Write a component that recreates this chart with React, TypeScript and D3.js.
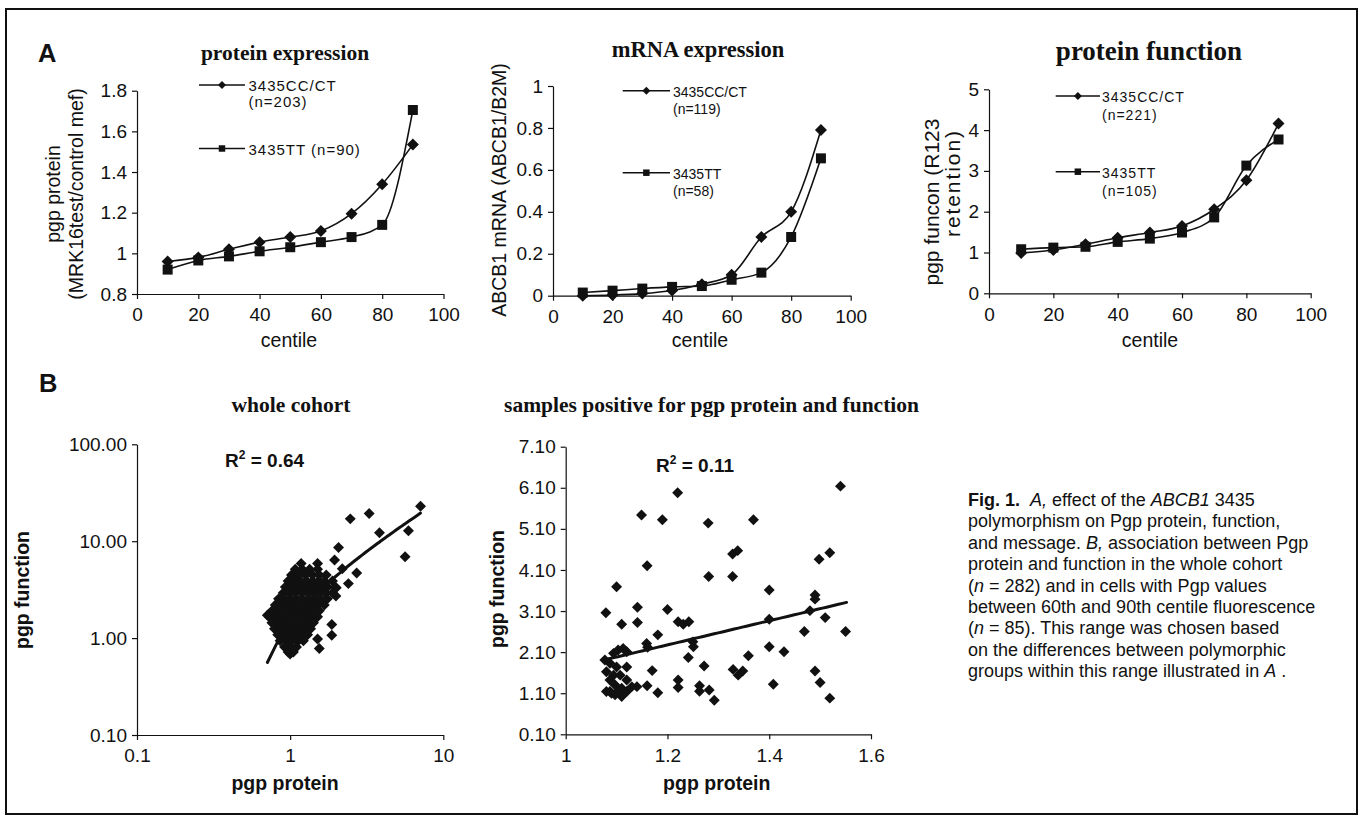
import React, { useEffect, useRef } from 'react';
import * as d3 from 'd3';

// ---- panel A: centile curves ----
const centiles = [10, 20, 30, 40, 50, 60, 70, 80, 90];
const centileTicks = [0, 20, 40, 60, 80, 100];

const proteinCC = [0.96, 0.98, 1.02, 1.055, 1.08, 1.11, 1.195, 1.34, 1.535];
const proteinTT = [0.92, 0.965, 0.985, 1.01, 1.03, 1.055, 1.08, 1.14, 1.705];
const proteinTicks = [0.8, 1, 1.2, 1.4, 1.6, 1.8];

const mrnaCC = [0, 0.003, 0.01, 0.025, 0.055, 0.1, 0.28, 0.4, 0.79];
const mrnaTT = [0.015, 0.024, 0.034, 0.042, 0.046, 0.076, 0.11, 0.28, 0.655];
const mrnaTicks = [0, 0.2, 0.4, 0.6, 0.8, 1];

const functionCC = [0.99, 1.06, 1.2, 1.36, 1.49, 1.65, 2.06, 2.77, 4.16];
const functionTT = [1.08, 1.12, 1.14, 1.26, 1.34, 1.49, 1.86, 3.13, 3.77];
const functionTicks = [0, 1, 2, 3, 4, 5];

// ---- panel B: scatter (pgp protein, pgp function) ----
const cohortPoints: [number, number][] = [
  [7.1, 22.9], [3.28, 19.3], [2.47, 17.0], [3.83, 12.2], [5.92, 12.8], [5.63, 6.9],
  [2.07, 8.6], [1.95, 6.4], [2.72, 4.7], [2.19, 5.2], [2.4, 3.65], [2.0, 3.3],
  [1.99, 2.72], [1.87, 1.38], [1.87, 1.07], [1.51, 0.98], [1.55, 0.78], [0.88, 2.52],
  [0.71, 1.72], [1.18, 5.9], [1.51, 5.9], [1.0, 0.685],
  [1.08, 5.15], [1.2, 5.15], [1.34, 5.15], [1.51, 5.15],
  [1.02, 4.47], [1.13, 4.47], [1.26, 4.47], [1.4, 4.47], [1.55, 4.47], [1.72, 4.47],
  [0.97, 3.88], [1.07, 3.88], [1.17, 3.88], [1.28, 3.88], [1.4, 3.88], [1.53, 3.88], [1.67, 3.88], [1.89, 3.88],
  [0.93, 3.37], [1.02, 3.37], [1.12, 3.37], [1.22, 3.37], [1.34, 3.37], [1.46, 3.37], [1.6, 3.37], [1.75, 3.37], [1.97, 3.37],
  [0.9, 2.92], [0.99, 2.92], [1.08, 2.92], [1.19, 2.92], [1.3, 2.92], [1.42, 2.92], [1.55, 2.92], [1.7, 2.92], [1.89, 2.92],
  [0.84, 2.54], [0.92, 2.54], [1.0, 2.54], [1.1, 2.54], [1.2, 2.54], [1.32, 2.54], [1.44, 2.54], [1.58, 2.54], [1.75, 2.54],
  [0.8, 2.2], [0.88, 2.2], [0.96, 2.2], [1.05, 2.2], [1.15, 2.2], [1.26, 2.2], [1.38, 2.2], [1.51, 2.2], [1.67, 2.2],
  [0.76, 1.91], [0.83, 1.91], [0.9, 1.91], [0.99, 1.91], [1.08, 1.91], [1.19, 1.91], [1.3, 1.91], [1.42, 1.91], [1.55, 1.91],
  [0.73, 1.66], [0.8, 1.66], [0.88, 1.66], [0.96, 1.66], [1.05, 1.66], [1.15, 1.66], [1.26, 1.66], [1.38, 1.66], [1.51, 1.66],
  [0.76, 1.44], [0.83, 1.44], [0.9, 1.44], [0.99, 1.44], [1.08, 1.44], [1.19, 1.44], [1.3, 1.44], [1.42, 1.44],
  [0.79, 1.25], [0.86, 1.25], [0.95, 1.25], [1.03, 1.25], [1.13, 1.25], [1.24, 1.25], [1.36, 1.25],
  [0.83, 1.08], [0.9, 1.08], [0.99, 1.08], [1.08, 1.08], [1.19, 1.08], [1.3, 1.08],
  [0.86, 0.94], [0.95, 0.94], [1.03, 0.94], [1.13, 0.94], [1.22, 0.94],
  [0.92, 0.81], [1.0, 0.81], [1.1, 0.81],
  [0.97, 0.72], [1.05, 0.72],
];
const cohortTrend: [number, number][] = [[0.71, 0.56], [7.1, 19.5]];

const positivePoints: [number, number][] = [
  [1.1, 3.69], [1.149, 5.44], [1.19, 5.32], [1.22, 5.98], [1.16, 4.2], [1.28, 5.24],
  [1.369, 5.32], [1.54, 6.14], [1.328, 4.49], [1.338, 4.57], [1.281, 3.94], [1.328, 3.94],
  [1.4, 3.61], [1.498, 4.36], [1.519, 4.52], [1.49, 3.49], [1.49, 3.39],
  [1.079, 3.06], [1.141, 3.19], [1.11, 2.78], [1.141, 2.82], [1.2, 3.14], [1.221, 2.84],
  [1.231, 2.78], [1.242, 2.84], [1.181, 2.52], [1.159, 2.31], [1.161, 2.22], [1.25, 2.35],
  [1.251, 2.23], [1.241, 1.97], [1.17, 1.65], [1.272, 1.76], [1.221, 1.42], [1.221, 1.24],
  [1.16, 1.28], [1.181, 1.11], [1.263, 1.28], [1.263, 1.15], [1.282, 1.18], [1.292, 0.93],
  [1.329, 1.68], [1.339, 1.54], [1.348, 1.64], [1.359, 2.01], [1.4, 2.9], [1.4, 2.23],
  [1.429, 2.11], [1.408, 1.32], [1.469, 2.6], [1.48, 3.11], [1.51, 2.94], [1.55, 2.6],
  [1.49, 1.64], [1.5, 1.36], [1.519, 0.98],
  [1.077, 1.91], [1.08, 1.62], [1.087, 1.83], [1.094, 2.07], [1.103, 2.15], [1.113, 2.19],
  [1.12, 2.11], [1.1, 1.74], [1.12, 1.74], [1.107, 1.54], [1.087, 1.42], [1.097, 1.3],
  [1.087, 1.14], [1.097, 1.06], [1.11, 1.02], [1.12, 1.14], [1.11, 1.22], [1.14, 1.26],
  [1.13, 1.26], [1.12, 1.42], [1.103, 1.14], [1.08, 1.14], [1.09, 1.1], [1.094, 1.54],
];
const positiveTrend: [number, number][] = [[1.079, 1.92], [1.552, 3.31]];

const logTicksY = [0.1, 1, 10, 100];
const logTicksX = [0.1, 1, 10];
const linTicksY = [0.1, 1.1, 2.1, 3.1, 4.1, 5.1, 6.1, 7.1];
const linTicksX = [1, 1.2, 1.4, 1.6];

const captionLines: [string, string][][] = [
  [['Fig. 1.', 'b'], ['  ', ''], ['A,', 'i'], [' effect of the ', ''], ['ABCB1', 'i'], [' 3435', '']],
  [['polymorphism on Pgp protein, function,', '']],
  [['and message. ', ''], ['B,', 'i'], [' association between Pgp', '']],
  [['protein and function in the whole cohort', '']],
  [['(', ''], ['n', 'i'], [' = 282) and in cells with Pgp values', '']],
  [['between 60th and 90th centile fluorescence', '']],
  [['(', ''], ['n', 'i'], [' = 85). This range was chosen based', '']],
  [['on the differences between polymorphic', '']],
  [['groups within this range illustrated in ', ''], ['A', 'i'], [' .', '']],
];

const sans = "'Liberation Sans', Arial, Helvetica, sans-serif";
const serif = "'Liberation Serif', 'Times New Roman', serif";
const ink = '#111';

const diamond = {
  draw(ctx: any, size: number) {
    const r = Math.sqrt(size / 2);
    ctx.moveTo(0, -r);
    ctx.lineTo(r, 0);
    ctx.lineTo(0, r);
    ctx.lineTo(-r, 0);
    ctx.closePath();
  },
};

const panelsA = [
  {
    title: 'protein expression', titleSize: 21.5, titleX: 285, titleY: 60,
    left: 137, right: 443.5, top: 90.7, bottom: 294,
    yDomain: [0.8, 1.8], yTicks: proteinTicks, cc: proteinCC, tt: proteinTT,
    legend: { x1: 199, x2: 245, tx: 248.5, size: 15, spacing: 1, gap: 16,
      items: [{ y: 85, lines: ['3435CC/CT', '(n=203)'] }, { y: 148.5, lines: ['3435TT (n=90)'] }] },
    yLabel: [{ t: 'pgp protein', x: 53, y: 194 }, { t: '(MRK16test/control mef)', x: 76, y: 194 }],
    centileX: 289,
  },
  {
    title: 'mRNA expression', titleSize: 22.5, titleX: 698, titleY: 57,
    left: 553, right: 850.7, top: 86, bottom: 295.7,
    yDomain: [0, 1], yTicks: mrnaTicks, cc: mrnaCC, tt: mrnaTT,
    legend: { x1: 622.7, x2: 670, tx: 673, size: 14, spacing: 0, gap: 17,
      items: [{ y: 90.7, lines: ['3435CC/CT', '(n=119)'] }, { y: 172.7, lines: ['3435TT', '(n=58)'] }] },
    yLabel: [{ t: 'ABCB1 mRNA (ABCB1/B2M)', x: 499, y: 190 }],
    centileX: 700,
  },
  {
    title: 'protein function', titleSize: 27, titleX: 1149, titleY: 60,
    left: 989, right: 1310.7, top: 89.3, bottom: 293.3,
    yDomain: [0, 5], yTicks: functionTicks, cc: functionCC, tt: functionTT,
    legend: { x1: 1055.7, x2: 1100, tx: 1102, size: 14, spacing: 1, gap: 18,
      items: [{ y: 96, lines: ['3435CC/CT', '(n=221)'] }, { y: 171.7, lines: ['3435TT', '(n=105)'] }] },
    yLabel: [
      { t: 'pgp funcon (R123', x: 931, y: 202, size: 21 },
      { t: 'retention)', x: 952, y: 184, size: 21, len: 106 },
    ],
    centileX: 1150,
  },
];

function styleAxis(g: any, size: number) {
  g.attr('font-family', sans).attr('font-size', size);
  g.selectAll('path.domain').attr('stroke', ink).attr('stroke-width', 1.2);
  g.selectAll('.tick line').attr('stroke', ink).attr('stroke-width', 1.2);
  g.selectAll('.tick text').attr('fill', ink);
}

function drawCentile(svg: any, p: any) {
  const x = d3.scaleLinear().domain([0, 100]).range([p.left, p.right]);
  const y = d3.scaleLinear().domain(p.yDomain).range([p.bottom, p.top]);
  const g = svg.append('g');

  const ax = g.append('g').attr('transform', `translate(0,${p.bottom})`)
    .call(d3.axisBottom(x).tickValues(centileTicks).tickFormat((d: any) => String(d))
      .tickSize(5).tickPadding(9).tickSizeOuter(0));
  styleAxis(ax, 19);
  const ay = g.append('g').attr('transform', `translate(${p.left},0)`)
    .call(d3.axisLeft(y).tickValues(p.yTicks).tickFormat((d: any) => String(d))
      .tickSize(5).tickPadding(5).tickSizeOuter(0));
  styleAxis(ay, 19);

  const line = d3.line<number>()
    .x((_d, i) => x(centiles[i]))
    .y((d) => y(d))
    .curve(d3.curveMonotoneX);
  [p.cc, p.tt].forEach((s: number[]) => {
    g.append('path').attr('d', line(s)).attr('fill', 'none')
      .attr('stroke', ink).attr('stroke-width', 1.6);
  });
  g.selectAll('path.cc').data(p.cc).enter().append('path')
    .attr('d', d3.symbol().type(diamond as any).size(72)())
    .attr('transform', (d: number, i: number) => `translate(${x(centiles[i])},${y(d)})`)
    .attr('fill', ink);
  g.selectAll('path.tt').data(p.tt).enter().append('path')
    .attr('d', d3.symbol().type(d3.symbolSquare).size(100)())
    .attr('transform', (d: number, i: number) => `translate(${x(centiles[i])},${y(d)})`)
    .attr('fill', ink);

  // legend
  const L = p.legend;
  L.items.forEach((it: any, k: number) => {
    g.append('line').attr('x1', L.x1).attr('x2', L.x2).attr('y1', it.y).attr('y2', it.y)
      .attr('stroke', ink).attr('stroke-width', 1.6);
    const shape = k === 0
      ? d3.symbol().type(diamond as any).size(32)()
      : d3.symbol().type(d3.symbolSquare).size(42)();
    g.append('path').attr('d', shape)
      .attr('transform', `translate(${(L.x1 + L.x2) / 2},${it.y})`).attr('fill', ink);
    it.lines.forEach((t: string, j: number) => {
      g.append('text').attr('x', L.tx).attr('y', it.y + 6 + j * L.gap)
        .attr('font-family', sans).attr('font-size', L.size)
        .attr('letter-spacing', L.spacing).attr('fill', ink).text(t);
    });
  });

  g.append('text').attr('x', p.titleX).attr('y', p.titleY).attr('text-anchor', 'middle')
    .attr('font-family', serif).attr('font-weight', 'bold').attr('font-size', p.titleSize)
    .attr('fill', ink).text(p.title);
  p.yLabel.forEach((l: any) => {
    const t = g.append('text').attr('transform', `translate(${l.x},${l.y}) rotate(-90)`)
      .attr('text-anchor', 'middle').attr('dominant-baseline', 'central')
      .attr('font-family', sans).attr('font-size', l.size || 19.5).attr('fill', ink).text(l.t);
    if (l.len) t.attr('textLength', l.len).attr('lengthAdjust', 'spacing');
  });
  g.append('text').attr('x', p.centileX).attr('y', 347).attr('text-anchor', 'middle')
    .attr('font-family', sans).attr('font-size', 19.5).attr('fill', ink).text('centile');
}

function drawScatter(svg: any, s: any) {
  const g = svg.append('g');
  const { x, y } = s;
  const ax = g.append('g').attr('transform', `translate(0,${y.range()[0]})`)
    .call(d3.axisBottom(x).tickValues(s.xTicks).tickFormat((d: any) => String(d))
      .tickSize(5).tickPadding(9).tickSizeOuter(0));
  styleAxis(ax, 19);
  const ay = g.append('g').attr('transform', `translate(${x.range()[0]},0)`)
    .call(d3.axisLeft(y).tickValues(s.yTicks).tickFormat(d3.format('.2f'))
      .tickSize(5).tickPadding(5).tickSizeOuter(0));
  styleAxis(ay, 19);

  g.selectAll('path.pt').data(s.points).enter().append('path')
    .attr('d', d3.symbol().type(diamond as any).size(60)())
    .attr('transform', (d: [number, number]) => `translate(${x(d[0])},${y(d[1])})`)
    .attr('fill', ink);

  // straight-line fit between its two end points, drawn on the chart's axes
  const [a, b] = s.trend;
  const n = 60;
  const fit = d3.range(n + 1).map((i) => {
    const t = i / n;
    return [a[0] + (b[0] - a[0]) * t, a[1] + (b[1] - a[1]) * t] as [number, number];
  });
  g.append('path')
    .attr('d', d3.line<[number, number]>().x((d) => x(d[0])).y((d) => y(d[1]))(fit))
    .attr('fill', 'none').attr('stroke', ink).attr('stroke-width', 3).attr('stroke-linecap', 'round');

  g.append('text').attr('x', s.titleX).attr('y', 411.7).attr('text-anchor', 'middle')
    .attr('font-family', serif).attr('font-weight', 'bold').attr('font-size', 21.5)
    .attr('fill', ink).text(s.title);
  const r2 = g.append('text').attr('x', s.r2X).attr('y', s.r2Y)
    .attr('font-family', sans).attr('font-weight', 'bold').attr('font-size', 19).attr('fill', ink);
  r2.append('tspan').text('R');
  r2.append('tspan').attr('dy', -8).attr('font-size', 12).text('2');
  r2.append('tspan').attr('dy', 8).text(` = ${s.r2}`);

  g.append('text').attr('x', s.xLabelX).attr('y', 790).attr('text-anchor', 'middle')
    .attr('font-family', sans).attr('font-weight', 'bold').attr('font-size', 19.5)
    .attr('fill', ink).text('pgp protein');
  g.append('text').attr('transform', `translate(${s.yLabelX},${s.yLabelY}) rotate(-90)`)
    .attr('text-anchor', 'middle').attr('dominant-baseline', 'central')
    .attr('font-family', sans).attr('font-weight', 'bold').attr('font-size', 19.5)
    .attr('fill', ink).text('pgp function');
}

export default function App() {
  const ref = useRef<SVGSVGElement>(null);

  useEffect(() => {
    document.body.style.margin = '0';
    const svg = d3.select(ref.current);
    svg.selectAll('*').remove();

    svg.append('rect').attr('x', 6).attr('y', 9).attr('width', 1351).attr('height', 805)
      .attr('fill', 'none').attr('stroke', ink).attr('stroke-width', 2);

    svg.append('text').attr('x', 38).attr('y', 61.7).attr('font-family', sans)
      .attr('font-weight', 'bold').attr('font-size', 25.5).attr('fill', ink).text('A');
    svg.append('text').attr('x', 39).attr('y', 392).attr('font-family', sans)
      .attr('font-weight', 'bold').attr('font-size', 25.5).attr('fill', ink).text('B');

    panelsA.forEach((p) => drawCentile(svg, p));

    drawScatter(svg, {
      x: d3.scaleLog().domain([0.1, 10]).range([137, 443.3]),
      y: d3.scaleLog().domain([0.1, 100]).range([735, 444.3]),
      xTicks: logTicksX, yTicks: logTicksY,
      points: cohortPoints, trend: cohortTrend,
      title: 'whole cohort', titleX: 291, r2: '0.64', r2X: 225, r2Y: 467.3,
      xLabelX: 285, yLabelX: 22, yLabelY: 590,
    });
    drawScatter(svg, {
      x: d3.scaleLinear().domain([1, 1.6]).range([565.7, 871]),
      y: d3.scaleLinear().domain([0.1, 7.1]).range([734.3, 446.7]),
      xTicks: linTicksX, yTicks: linTicksY,
      points: positivePoints, trend: positiveTrend,
      title: 'samples positive for pgp protein and function', titleX: 711.5,
      r2: '0.11', r2X: 656, r2Y: 471.7,
      xLabelX: 716.7, yLabelX: 497, yLabelY: 589,
    });

    // caption
    const cap = svg.append('g').attr('font-family', sans).attr('font-size', 18).attr('fill', ink);
    captionLines.forEach((segs, i) => {
      const t = cap.append('text').attr('x', 968).attr('y', 506 + i * 21.4)
        .style('white-space', 'pre');
      segs.forEach(([txt, st]) => {
        const ts = t.append('tspan').text(txt);
        if (st === 'b') ts.attr('font-weight', 'bold');
        if (st === 'i') ts.attr('font-style', 'italic');
      });
    });
  }, []);

  return (
    <svg
      ref={ref}
      width={1363}
      height={822}
      style={{ position: 'absolute', left: 0, top: 0, background: '#fff' }}
    />
  );
}
